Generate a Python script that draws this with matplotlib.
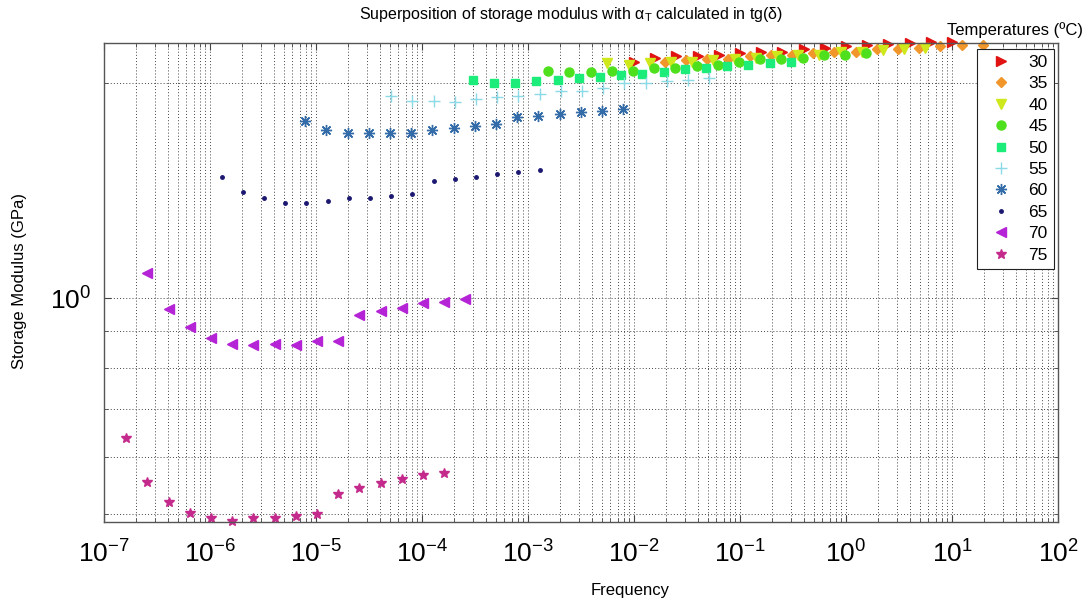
#plot.py
"""Time-temperature superposition of storage modulus, log-log scatter
   with one marker series per test temperature."""

import numpy as np
import matplotlib
matplotlib.use('Agg')
import matplotlib.pyplot as plt
from matplotlib.ticker import LogLocator, NullFormatter, LogFormatterSciNotation

plt.rcParams['font.family'] = ['Liberation Sans', 'DejaVu Sans']
plt.rcParams['mathtext.fontset'] = 'custom'
plt.rcParams['mathtext.rm'] = 'Liberation Sans'
plt.rcParams['mathtext.it'] = 'Liberation Sans:italic'
plt.rcParams['mathtext.default'] = 'regular'
plt.rcParams['axes.unicode_minus'] = False

#measured frequencies (Hz), same for every temperature
base_freq = [0.01, 0.0158, 0.0251, 0.0398, 0.0631, 0.1, 0.158, 0.251,
             0.398, 0.631, 1.0, 1.58, 2.51, 3.98, 6.31, 10.0]

temps = [30, 35, 40, 45, 50, 55, 60, 65, 70, 75]

#log10 of shift factor aT for each temperature
log_aT = [0.0, 0.29, -0.25, -0.81, -1.52, -2.29, -3.10, -3.89, -4.59, -4.79]

#storage modulus (GPa) per temperature
E_30 = [2.14, 2.17, 2.18, 2.18, 2.19, 2.20, 2.21, 2.21, 2.23, 2.24, 2.25, 2.26, 2.27, 2.275, 2.28, 2.28]
E_35 = [2.14, 2.15, 2.16, 2.16, 2.18, 2.19, 2.19, 2.20, 2.21, 2.21, 2.23, 2.23, 2.24, 2.25, 2.26, 2.26]
E_40 = [2.13, 2.12, 2.13, 2.14, 2.14, 2.15, 2.16, 2.17, 2.18, 2.19, 2.19, 2.21, 2.21, 2.22, 2.23, 2.24]
E_45 = [2.08, 2.07, 2.07, 2.08, 2.08, 2.10, 2.10, 2.11, 2.12, 2.14, 2.16, 2.16, 2.17, 2.19, 2.19, 2.20]
E_50 = [2.02, 2.00, 2.00, 2.01, 2.02, 2.03, 2.04, 2.05, 2.06, 2.07, 2.09, 2.10, 2.11, 2.12, 2.13, 2.14]
E_55 = [1.92, 1.89, 1.89, 1.88, 1.90, 1.91, 1.92, 1.93, 1.95, 1.95, 1.97, 2.00, 2.00, 2.01, 2.02, 2.03]
E_60 = [1.77, 1.72, 1.70, 1.70, 1.70, 1.70, 1.72, 1.73, 1.74, 1.75, 1.79, 1.80, 1.81, 1.82, 1.83, 1.84]
E_65 = [1.48, 1.41, 1.38, 1.36, 1.36, 1.37, 1.38, 1.38, 1.39, 1.40, 1.46, 1.47, 1.48, 1.49, 1.50, 1.51]
E_70 = [1.087, 0.968, 0.911, 0.882, 0.865, 0.860, 0.865, 0.862, 0.871, 0.873, 0.947, 0.959, 0.971, 0.984, 0.990, 0.997]
E_75 = [0.639, 0.555, 0.519, 0.502, 0.494, 0.489, 0.493, 0.493, 0.496, 0.500, 0.533, 0.544, 0.553, 0.560, 0.567, 0.571]

moduli = [E_30, E_35, E_40, E_45, E_50, E_55, E_60, E_65, E_70, E_75]

#marker styles, roughly matlab's defaults
markers = ['>', 'D', 'v', 'o', 's', '+', (8, 2, 0), '.', '<', '*']
sizes = [7, 5, 7, 6.5, 6, 8, 8, 5, 7.5, 7.5]
colors = ['#e01212', '#f0962a', '#cfe81c', '#4ee01c', '#1cec7a',
          '#8cdae6', '#336ca8', '#1c1870', '#b424d6', '#c42a8c']

fig = plt.figure(figsize=(10.9, 6.04), dpi=100)
ax = fig.add_axes([104/1090, 1-522/604, (1058-104)/1090, (522-43)/604])

for T, E, a, m, s, c in zip(temps, moduli, log_aT, markers, sizes, colors):
	f = np.array(base_freq) * 10**a
	ax.plot(f, E, linestyle='none', marker=m, markersize=s, color=c,
	        markeredgecolor=c, markeredgewidth=1.0, label=str(T), clip_on=False)

ax.set_xscale('log')
ax.set_yscale('log')
ax.set_xlim(1e-7, 1e2)
ax.set_ylim(0.4873, 2.274)

#ticks: every decade on x, only 10^0 labelled on y
ax.xaxis.set_major_locator(LogLocator(base=10, numticks=20))
ax.xaxis.set_minor_locator(LogLocator(base=10, subs=np.arange(2, 10), numticks=20))
ax.xaxis.set_minor_formatter(NullFormatter())
ax.yaxis.set_major_locator(LogLocator(base=10, numticks=20))
ax.yaxis.set_minor_locator(LogLocator(base=10, subs=np.arange(2, 10), numticks=20))
ax.yaxis.set_major_formatter(LogFormatterSciNotation())
ax.yaxis.set_minor_formatter(NullFormatter())

ax.tick_params(which='both', direction='in', top=True, right=True,
               color='#444444', labelsize=19)
ax.tick_params(which='major', length=5, width=0.8)
ax.tick_params(axis='x', which='major', pad=13)
ax.tick_params(axis='y', which='major', pad=9)
ax.tick_params(which='minor', length=3, width=0.6)
for sp in ax.spines.values():
	sp.set_color('#555555')
	sp.set_linewidth(1.0)

#dotted grid on major and minor ticks
ax.grid(True, which='both', linestyle=(0, (1, 2.2)), color='#444444', linewidth=0.7)
ax.set_axisbelow(True)

leg = ax.legend(loc='upper right', bbox_to_anchor=(0.996, 0.988), borderaxespad=0,
                fontsize=12.5, frameon=True, fancybox=False, framealpha=1,
                edgecolor='#222222', handlelength=2.0, handletextpad=0.6,
                labelspacing=0.36, borderpad=0.35, numpoints=1)
leg.get_frame().set_linewidth(0.8)

fig.text(1015/1090, 1-30/604, 'Temperatures (\u00baC)', ha='center', va='center', fontsize=12)
fig.text(571/1090, 1-15/604, r'Superposition of storage modulus with $\alpha_T$ calculated in tg($\delta$)',
         ha='center', va='center', fontsize=11.5)
fig.text(20/1090, 1-281/604, 'Storage Modulus (GPa)', rotation=90,
         ha='center', va='center', fontsize=12)
fig.text(630/1090, 1-590/604, 'Frequency', ha='center', va='center', fontsize=12)

plt.savefig('out.png', dpi=100)
